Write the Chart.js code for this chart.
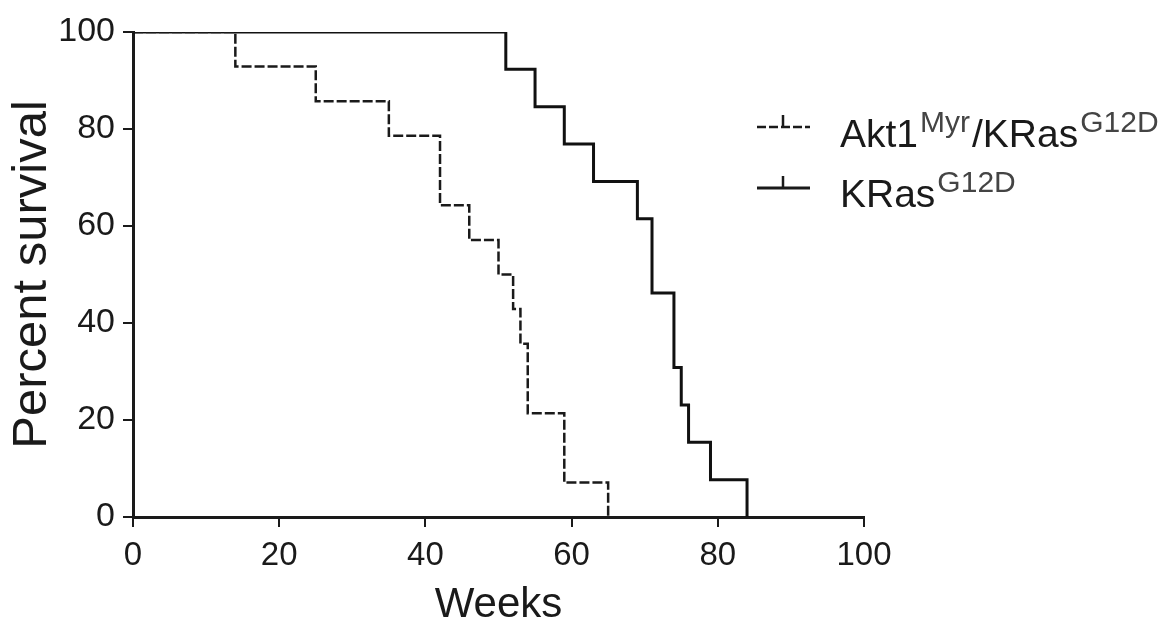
<!DOCTYPE html>
<html>
<head>
<meta charset="utf-8">
<script src="https://cdn.jsdelivr.net/npm/chart.js@4.4.1/dist/chart.umd.min.js"></script>
<style>
  html, body { margin: 0; padding: 0; background: #ffffff; }
  #wrap { position: relative; width: 1164px; height: 623px; }
</style>
</head>
<body>
<div id="wrap"><canvas id="c"></canvas></div>
<script>
// ---- Data ----
const akt1Weeks    = [0, 14, 25, 35, 42, 46, 50, 52, 53, 54, 59, 65];
const akt1Survival = [100, 92.9, 85.7, 78.6, 64.3, 57.1, 50, 42.9, 35.7, 21.4, 7.1, 0];
const krasWeeks    = [0, 51, 55, 59, 63, 69, 71, 74, 75, 76, 79, 84];
const krasSurvival = [100, 92.3, 84.6, 76.9, 69.2, 61.5, 46.2, 30.8, 23.1, 15.4, 7.7, 0];
const xTicks = [0, 20, 40, 60, 80, 100];
const yTicks = [0, 20, 40, 60, 80, 100];
const seriesNames = [
  [{t: 'Akt1'}, {t: 'Myr', sup: true}, {t: '/KRas'}, {t: 'G12D', sup: true}],
  [{t: 'KRas'}, {t: 'G12D', sup: true}]
];

const toPoints = (xs, ys) => xs.map((x, i) => ({x: x, y: ys[i]}));

const FONT = "'Liberation Sans', Arial, sans-serif";
const INK = '#1a1a1a';

const legendPlugin = {
  id: 'kmLegend',
  afterDraw(chart) {
    const ctx = chart.ctx;
    const rows = [
      {lineY: 127, baseY: 147, dash: [9, 3], width: 2.5},
      {lineY: 188, baseY: 207, dash: [], width: 3}
    ];
    rows.forEach((r, i) => {
      ctx.save();
      ctx.strokeStyle = INK;
      ctx.lineWidth = r.width;
      ctx.setLineDash(r.dash);
      ctx.beginPath();
      ctx.moveTo(757, r.lineY);
      ctx.lineTo(810, r.lineY);
      ctx.stroke();
      ctx.setLineDash([]);
      ctx.lineWidth = 2.5;
      ctx.beginPath();
      ctx.moveTo(783, r.lineY - 12);
      ctx.lineTo(783, r.lineY);
      ctx.stroke();
      let x = 840;
      ctx.textBaseline = 'alphabetic';
      ctx.textAlign = 'left';
      seriesNames[i].forEach(part => {
        if (part.sup) {
          ctx.font = '30px ' + FONT;
          ctx.fillStyle = '#444';
          ctx.fillText(part.t, x, r.baseY - 15);
        } else {
          ctx.font = '39px ' + FONT;
          ctx.fillStyle = INK;
          ctx.fillText(part.t, x, r.baseY);
        }
        x += ctx.measureText(part.t).width + 2;
      });
      ctx.restore();
    });
  }
};

new Chart(document.getElementById('c'), {
  type: 'line',
  data: {
    datasets: [
      {
        label: 'Akt1Myr/KRasG12D',
        data: toPoints(akt1Weeks, akt1Survival),
        stepped: true,
        borderColor: INK,
        borderWidth: 2.5,
        borderDash: [10, 3],
        pointRadius: 0,
        fill: false
      },
      {
        label: 'KRasG12D',
        data: toPoints(krasWeeks, krasSurvival),
        stepped: true,
        borderColor: '#111',
        borderWidth: 3,
        pointRadius: 0,
        fill: false
      }
    ]
  },
  options: {
    responsive: true,
    maintainAspectRatio: false,
    animation: false,
    layout: { padding: { top: 32, right: 300, bottom: 0, left: 0 } },
    plugins: {
      legend: { display: false },
      tooltip: { enabled: false }
    },
    scales: {
      x: {
        type: 'linear',
        min: 0, max: 100,
        afterBuildTicks: s => { s.ticks = xTicks.map(v => ({value: v})); },
        afterFit: s => { s.height = 106; },
        grid: { drawOnChartArea: false, drawTicks: true, tickLength: 10, color: INK, lineWidth: 2 },
        border: { display: true, color: INK, width: 3 },
        ticks: { color: INK, font: { family: FONT, size: 33 }, padding: 9, maxRotation: 0 },
        title: { display: true, text: 'Weeks', color: INK, font: { family: FONT, size: 42, lineHeight: 1 }, padding: { top: 0, bottom: -3 } }
      },
      y: {
        type: 'linear',
        min: 0, max: 100,
        afterBuildTicks: s => { s.ticks = yTicks.map(v => ({value: v})); },
        afterFit: s => { s.width = 133; },
        grid: { drawOnChartArea: false, drawTicks: true, tickLength: 10, color: INK, lineWidth: 2 },
        border: { display: true, color: INK, width: 3 },
        ticks: { color: INK, font: { family: FONT, size: 34 }, padding: 8 },
        title: { display: true, text: 'Percent survival', color: INK, font: { family: FONT, size: 49, lineHeight: 1 }, padding: { top: 8, bottom: 0 } }
      }
    }
  },
  plugins: [legendPlugin]
});
</script>
</body>
</html>
